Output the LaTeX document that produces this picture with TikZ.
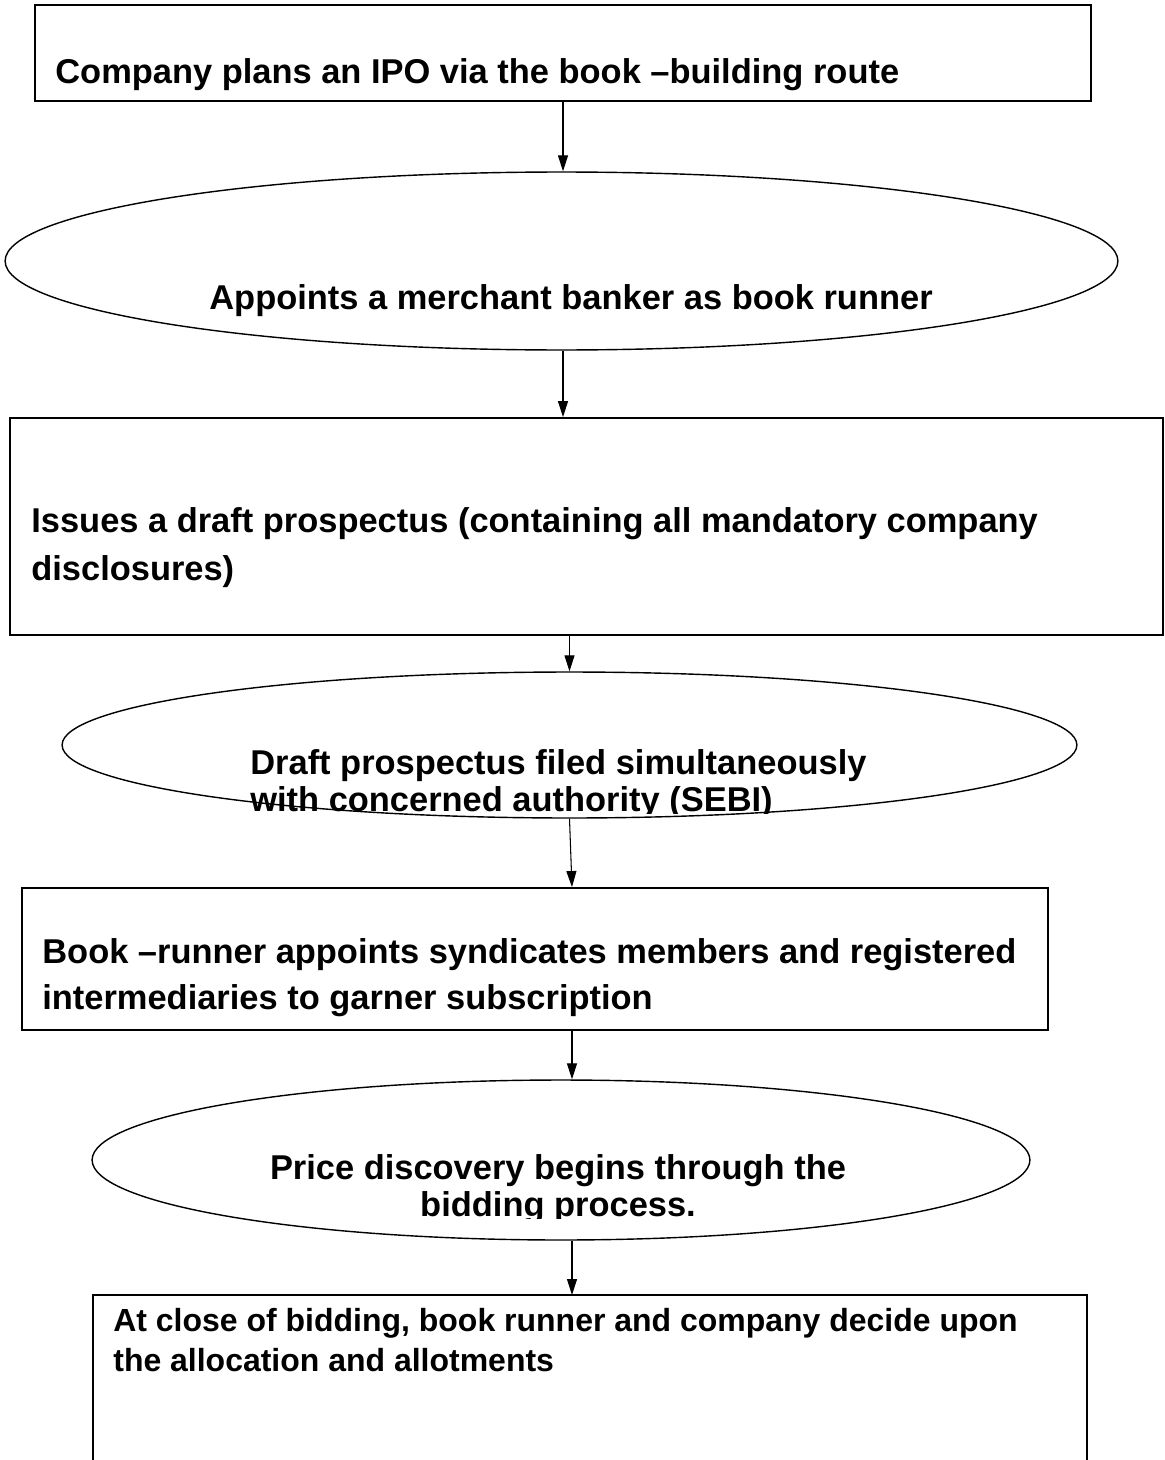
\documentclass[tikz,border=0pt]{standalone}
\usepackage{fontspec}
\setmainfont{Liberation Sans}
\usetikzlibrary{shapes.geometric, arrows.meta}

\begin{document}
\begin{tikzpicture}[
    x=0.02cm, y=-0.02cm,
    stepbox/.style={rectangle, draw=black, line width=1.1pt, inner sep=0pt},
    oval/.style={ellipse, draw=black, line width=0.8pt, inner sep=0pt},
    flow/.style={draw=black, line width=0.6pt, -{Triangle[length=0.32cm, width=0.2cm]}},
    txt/.style={anchor=base west, inner sep=0pt, align=left, font=\bfseries\fontsize{19.6}{27}\selectfont}
]
\useasboundingbox (0,0) rectangle (1164,1460);

% --- Shapes of the flow ---
\node[stepbox, minimum width=21.12cm, minimum height=1.92cm] (plan) at (563,53) {};
\node[oval, minimum width=22.26cm, minimum height=3.56cm] (banker) at (561.5,261) {};
\node[stepbox, minimum width=23.06cm, minimum height=4.34cm] (draft) at (586.5,526.5) {};
\node[oval, minimum width=20.3cm, minimum height=2.92cm] (filed) at (569.5,745) {};
\node[stepbox, minimum width=20.52cm, minimum height=2.84cm] (syndicate) at (535,959) {};
\node[oval, minimum width=18.76cm, minimum height=3.2cm] (pricing) at (561,1160) {};
% last box runs off the page
\coordinate (allot) at (572,1295);
\draw[line width=1.1pt] (93,1460) |- (1087,1295) -- (1087,1460);

% --- Texts (multi-line ones sit on their last baseline) ---
\node[txt] (plan text) at (55,84) {Company plans an IPO via the book –building route};
\node[txt] (banker text) at (209,309) {Appoints a merchant banker as book runner};
\node[txt, font=\bfseries\fontsize{19.6}{27.2}\selectfont] (draft text) at (31,580)
    {Issues a draft prospectus (containing all mandatory company\\disclosures)};
\begin{scope}
    \clip (0,640) rectangle (1164,813);
    \node[txt, font=\bfseries\fontsize{19.6}{21}\selectfont] (filed text) at (250,811)
        {Draft prospectus filed simultaneously\\with concerned authority (SEBI)};
\end{scope}
\node[txt, font=\bfseries\fontsize{19.6}{26}\selectfont] (syndicate text) at (42,1009)
    {Book –runner appoints syndicates members and registered\\intermediaries to garner subscription};
\begin{scope}
    \clip (0,1090) rectangle (1164,1218);
    \node[txt, anchor=base, align=center, font=\bfseries\fontsize{19.6}{21}\selectfont] (pricing text) at (558,1216)
        {Price discovery begins through the\\bidding process.};
\end{scope}
\node[txt, font=\bfseries\fontsize{18.2}{22.7}\selectfont] (allot text) at (113,1371)
    {At close of bidding, book runner and company decide upon\\the allocation and allotments};

% --- Arrows ---
\draw[flow] (plan.south) -- (plan.south |- banker.north);
\draw[flow] (banker.south -| plan.south) -- (plan.south |- draft.north);
\draw[flow] (filed.north |- draft.south) -- (filed.north);
\draw[flow] (filed.south) -- ([xshift=0.74cm]syndicate.north);
\draw[flow] ([xshift=0.74cm]syndicate.south) -- ([xshift=0.74cm]syndicate.south |- pricing.north);
\draw[flow] (allot |- pricing.south) -- (allot);

\end{tikzpicture}
\end{document}
